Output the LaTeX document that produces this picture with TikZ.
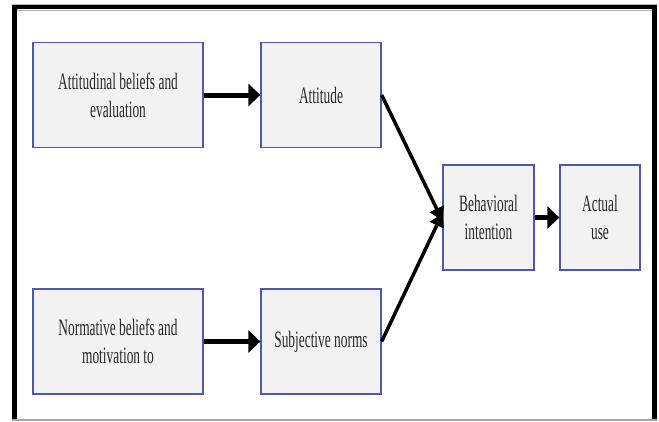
\documentclass[tikz,border=0pt]{standalone}
\usepackage{fontspec}
\setmainfont[FakeStretch=0.57]{Liberation Serif}
\usetikzlibrary{arrows.meta}
\definecolor{boxfill}{RGB}{242,242,242}
\definecolor{boxline}{RGB}{85,85,175}
\definecolor{textc}{RGB}{40,40,40}
\tikzset{
  tambox/.style={draw=boxline, line width=1.3pt, fill=boxfill, rectangle,
    inner sep=0pt, align=center, text=textc,
    font=\fontsize{23.5}{28}\selectfont},
  bigarrow/.style={line width=5pt, -{Triangle[length=12pt,width=22pt]}},
  diagarrow/.style={line width=3.5pt, -{Triangle[length=13pt,width=15pt]}}
}
\begin{document}
\begin{tikzpicture}[x=1pt,y=-1pt]
\useasboundingbox (0,0) rectangle (659,421);
% frame
\draw[gray!60, line width=1pt] (12,4) -- (657,4);
\draw[black, line width=4.5pt] (14.5,421) -- (14.5,7.2) -- (654.5,7.2) -- (654.5,421);
\draw[gray!60, line width=1pt] (17,10.5) -- (652,10.5);
\draw[gray!70, line width=1.5pt] (12,419.8) -- (657,419.8);
% boxes
\node[tambox, minimum width=170pt, minimum height=105pt] (ab) at (118,95) {Attitudinal beliefs and\\evaluation};
\node[tambox, minimum width=120pt, minimum height=105pt] (att) at (321,95) {Attitude};
\node[tambox, minimum width=170pt, minimum height=105pt] (nb) at (118,341.5) {Normative beliefs and\\motivation to};
\node[tambox, minimum width=120pt, minimum height=105pt] (sn) at (321,341.5) {Subjective norms};
\node[tambox, minimum width=91pt, minimum height=105pt] (bi) at (488.5,217.5) {Behavioral\\intention};
\node[tambox, minimum width=80pt, minimum height=105pt] (au) at (600,217.5) {Actual\\use};
% connectors
\draw[bigarrow] (ab.east) -- (att.west);
\draw[bigarrow] (nb.east) -- (sn.west);
\draw[diagarrow] (att.east) -- ([yshift=-3pt]bi.west);
\draw[diagarrow] (sn.east) -- ([yshift=4pt]bi.west);
\draw[bigarrow] (bi.east) -- (au.west);
\end{tikzpicture}
\end{document}
